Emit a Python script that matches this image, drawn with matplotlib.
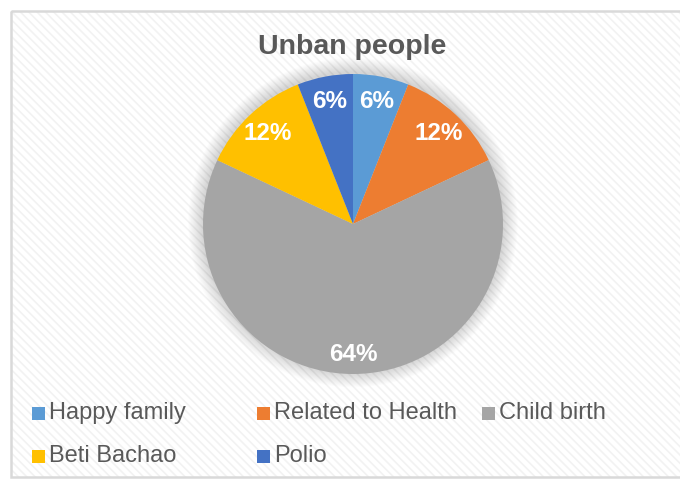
import matplotlib
matplotlib.use("Agg")
import matplotlib.pyplot as plt
from matplotlib.patches import Rectangle, Circle

CATEGORIES = ["Happy family", "Related to Health", "Child birth", "Beti Bachao", "Polio"]
SHARES = [6, 12, 64, 12, 6]
COLORS = ["#5b9bd5", "#ed7d31", "#a5a5a5", "#ffc000", "#4472c4"]
TITLE = "Unban people"
INK = "#595959"

W, H = 680, 479
plt.rcParams.update({"font.family": ["Liberation Sans", "DejaVu Sans"],
                     "hatch.linewidth": 1.2, "hatch.color": "#f2f2f2"})
fig = plt.figure(figsize=(W / 100, H / 100), dpi=100)


def px(x, y):
    # pixel coords (top-left origin) -> figure fraction
    return x / W, 1 - y / H


# chart area with the faint diagonal texture and grey frame
bg = fig.add_axes([0, 0, 1, 1])
bg.set_xlim(0, W)
bg.set_ylim(H, 0)
bg.axis("off")
bg.add_patch(Rectangle((11, 11), W + 10, 466, facecolor="white",
                       edgecolor="#f2f2f2", hatch="\\\\\\\\", linewidth=0))
bg.add_patch(Rectangle((11, 11), W + 10, 466, facecolor="none",
                       edgecolor="#d9d9d9", linewidth=1.8))

fig.text(*px(352, 47), TITLE, ha="center", va="center", fontsize=20.5,
         fontweight="bold", color=INK)

# pie, centre (353, 224), radius 150 px
cx, cy, r = 353, 224, 150
x0, y1 = px(cx - r, cy + r)
ax = fig.add_axes([x0, y1, 2 * r / W, 2 * r / H])
for k in range(14):
    ax.add_patch(Circle((0, 0.01), 1.0 + 0.007 * (14 - k), facecolor="black",
                        alpha=0.011, linewidth=0, zorder=0, clip_on=False))
wedges, _, pcts = ax.pie(SHARES, colors=COLORS, startangle=90, counterclock=False,
                         autopct="%d%%", pctdistance=0.83, radius=1,
                         wedgeprops=dict(linewidth=0),
                         textprops=dict(color="white", fontsize=17.5, fontweight="bold"))
for w in wedges:
    w.set_zorder(2)
for t in pcts:
    t.set_zorder(3)
    t.set_clip_on(False)
pcts[2].set_y(pcts[2].get_position()[1] - 0.04)
ax.set_xlim(-1, 1)
ax.set_ylim(-1, 1)
ax.set_aspect("equal")
ax.axis("off")

# legend laid out like the Excel one: three fixed-width columns
for i, (name, col) in enumerate(zip(CATEGORIES, COLORS)):
    lx = 32 + 225 * (i % 3)
    ly = 413 + 43 * (i // 3)
    bg.add_patch(Rectangle((lx, ly - 6.5), 13, 13, facecolor=col, linewidth=0))
    bg.text(lx + 17, ly, name, ha="left", va="center", fontsize=17, color=INK)

fig.savefig("out.png", dpi=100)
